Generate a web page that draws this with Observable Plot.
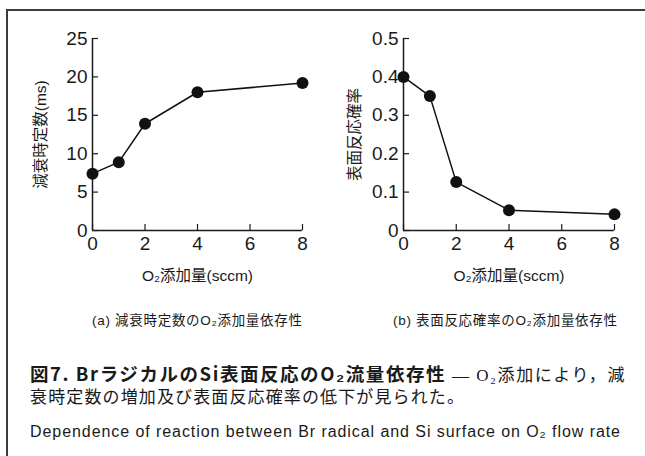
<!DOCTYPE html>
<html lang="ja">
<head>
<meta charset="utf-8">
<script src="https://cdn.jsdelivr.net/npm/d3@7"></script>
<script src="https://cdn.jsdelivr.net/npm/@observablehq/plot@0.6"></script>
<style>
  html, body { margin: 0; padding: 0; background: #fff; }
  #wrap { position: relative; width: 645px; height: 456px; overflow: hidden; background: #fff;
          font-family: "Liberation Sans", "Noto Sans CJK JP", sans-serif; color: #1a1a1a; }
  .topline { position: absolute; left: 6px; right: 0; top: 9px; height: 2px; background: #3c3c3c; }
  .leftline { position: absolute; left: 6px; top: 9px; bottom: 0; width: 1.5px; background: #3c3c3c; }
  .panel { position: absolute; top: 0; }
  .txt { position: absolute; white-space: nowrap; display: inline-block; line-height: 20px; }
  .sub { font-size: 13.5px; top: 311px; }
  .title { left: 30px; top: 363px; font-size: 17px; }
  .title b { font-weight: 700; font-size: 18.5px; font-family: "Noto Sans CJK JP", sans-serif; }
  .serif { font-family: "Liberation Serif", "Noto Sans CJK JP", serif; }
  .line2 { left: 30px; top: 388px; font-size: 17px; }
  .eng { left: 30px; top: 422px; font-size: 16px; font-family: "Liberation Sans", sans-serif; }
</style>
</head>
<body>
<div id="wrap">
  <div class="topline"></div>
  <div class="leftline"></div>
  <div id="pa" class="panel" style="left:0px"></div>
  <div id="pb" class="panel" style="left:320px"></div>
  <div id="capA" class="txt sub" style="left:92px"></div>
  <div id="capB" class="txt sub" style="left:393px"></div>
  <div id="title" class="txt title"></div>
  <div id="line2" class="txt line2 serif"></div>
  <div id="eng" class="txt eng"></div>
</div>
<script>
// ---- data ----
const flow = [0, 1, 2, 4, 8];                       // O2 添加量 (sccm)
const decayTime = [7.4, 8.9, 13.9, 18.0, 19.2];     // 減衰時定数 (ms)
const reactionProb = [0.4, 0.35, 0.126, 0.053, 0.042]; // 表面反応確率
const xTicks = [0, 2, 4, 6, 8];
const yTicksA = [0, 5, 10, 15, 20, 25];
const yTicksB = [0, 0.1, 0.2, 0.3, 0.4, 0.5];
const xLabel = "O₂添加量(sccm)";
const yLabelA = "減衰時定数(ms)";
const yLabelB = "表面反応確率";
const captionA = "(a) 減衰時定数のO₂添加量依存性";
const captionB = "(b) 表面反応確率のO₂添加量依存性";
const titleBold = "図7.  BrラジカルのSi表面反応のO₂流量依存性";
const titleRest = " — O₂添加により，減";
const titleLine2 = "衰時定数の増加及び表面反応確率の低下が見られた。";
const englishCaption = "Dependence of reaction between Br radical and Si surface on O₂ flow rate";

function panel(values, yDomain, yTicks, yLabel, ml, mr, labelDx) {
  const pts = flow.map((f, i) => ({x: f, y: values[i]}));
  return Plot.plot({
    width: 320, height: 300,
    marginLeft: ml, marginRight: mr, marginTop: 38, marginBottom: 70,
    style: {fontFamily: '"Liberation Sans", "Noto Sans CJK JP", sans-serif', fontSize: "17px", color: "#1a1a1a", background: "transparent"},
    x: {domain: [0, 8]},
    y: {domain: yDomain},
    marks: [
      Plot.axisX({ticks: xTicks, tickSize: -6, tickPadding: 12, label: null, strokeWidth: 1.2, fontSize: 19, tickFormat: d => String(d)}),
      Plot.axisY({ticks: yTicks, tickSize: -6, tickPadding: 11, label: null, strokeWidth: 1.2, fontSize: 19, tickFormat: d => String(d)}),
      Plot.ruleY([yDomain[0]], {stroke: "#1a1a1a", strokeWidth: 1.5}),
      Plot.ruleX([0], {stroke: "#1a1a1a", strokeWidth: 1.5}),
      Plot.line(pts, {x: "x", y: "y", stroke: "#111", strokeWidth: 1.5}),
      Plot.dot(pts, {x: "x", y: "y", r: 6, fill: "#111", stroke: "none"}),
      Plot.text([xLabel], {frameAnchor: "bottom", dy: 46, lineAnchor: "middle", textAnchor: "middle", text: d => d, fontSize: 15.5}),
      Plot.text([yLabel], {frameAnchor: "left", dx: labelDx, rotate: -90, textAnchor: "middle", lineAnchor: "middle", text: d => d, fontSize: 15.5})
    ]
  });
}

document.getElementById("pa").append(panel(decayTime, [0, 25], yTicksA, yLabelA, 92, 18, -51));
document.getElementById("pb").append(panel(reactionProb, [0, 0.5], yTicksB, yLabelB, 83, 26, -48));

document.getElementById("capA").textContent = captionA;
document.getElementById("capB").textContent = captionB;
const t = document.getElementById("title");
const b = document.createElement("b"); b.textContent = titleBold;
const s = document.createElement("span"); s.className = "serif"; s.textContent = titleRest;
t.append(b, s);
document.getElementById("line2").textContent = titleLine2;
document.getElementById("eng").textContent = englishCaption;

function fit(id, target) {
  const el = document.getElementById(id);
  el.style.letterSpacing = "0px";
  const w = el.getBoundingClientRect().width;
  const n = [...el.textContent].length;
  el.style.letterSpacing = ((target - w) / (n - 1)) + "px";
}
fit("capA", 210);
fit("capB", 224);
fit("title", 596);
fit("line2", 434);
fit("eng", 590);
</script>
</body>
</html>
